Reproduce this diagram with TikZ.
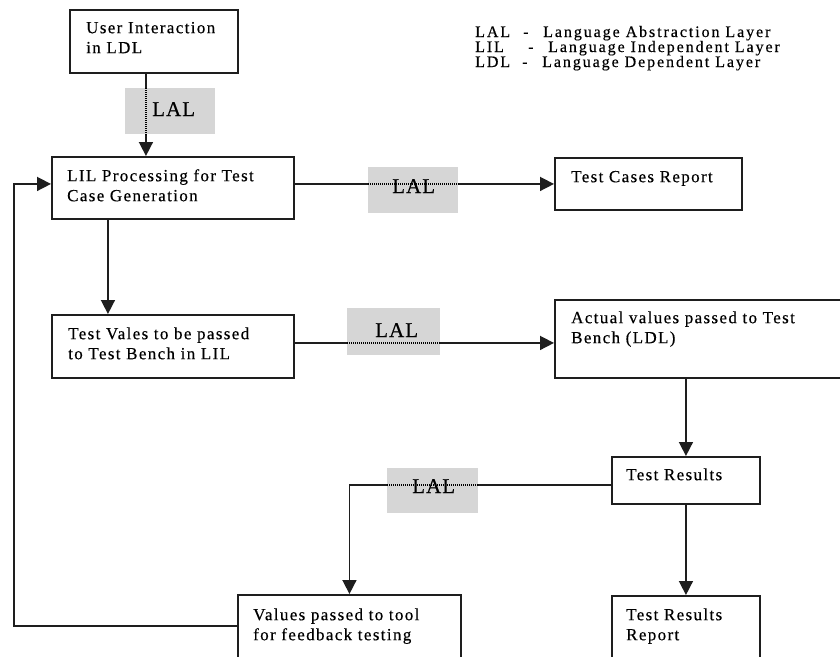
\documentclass[tikz,border=0pt]{standalone}
\usepackage{fontspec}
\setmainfont{Liberation Serif}[LetterSpace=8, FakeBold=0.4]
\usetikzlibrary{arrows.meta,calc}
\definecolor{ink}{HTML}{1E1E1E}
\definecolor{shade}{HTML}{D6D6D6}

\begin{document}
\begin{tikzpicture}[x=1pt,y=-1pt,
  box/.style={draw=ink, line width=1.9pt, fill=white, inner sep=0pt, anchor=north west},
  boxtext/.style={anchor=north west, inner sep=0pt, align=left, text=black,
                  font=\fontsize{17}{20}\selectfont},
  conn/.style={draw=ink, line width=1.6pt, -{Triangle[length=14pt,width=14pt]}},
  lalbox/.style={fill=shade, draw=none, inner sep=0pt, anchor=north west},
  laltext/.style={anchor=base west, inner sep=0pt,
                  font=\fontsize{21}{24}\selectfont\addfontfeature{LetterSpace=5}},
  dotline/.style={draw=black, line width=1.3pt, dash pattern=on 1pt off 1pt},
  legend/.style={anchor=base west, inner sep=0pt,
                 font=\fontsize{16}{18}\selectfont\addfontfeature{LetterSpace=12}}]

\useasboundingbox (0,0) rectangle (840,656);
\clip (0,0) rectangle (840,656);

% process boxes
\node[box, minimum width=168pt, minimum height=63pt] (ui)  at (69,9)   {};
\node[box, minimum width=242pt, minimum height=62pt] (lil) at (51,156) {};
\node[box, minimum width=187pt, minimum height=52pt] (tcr) at (554,157) {};
\node[box, minimum width=242pt, minimum height=63pt] (tv)  at (51,314) {};
\node[box, minimum width=320pt, minimum height=78pt] (av)  at (554,299) {};
\node[box, minimum width=148pt, minimum height=47pt] (tr)  at (611,456) {};
\node[box, minimum width=223pt, minimum height=90pt] (vp)  at (237,594) {};
\node[box, minimum width=148pt, minimum height=90pt] (trr) at (611,595) {};

% box captions
\node[boxtext] (uit)  at ($(ui.north west)+(17,10)$)  {\strut User Interaction\\in LDL};
\node[boxtext] (lilt) at ($(lil.north west)+(16,11)$) {\strut LIL Processing for Test\\Case Generation};
\node[boxtext] (tcrt) at ($(tcr.north west)+(17,11)$) {\strut Test Cases Report};
\node[boxtext] (tvt)  at ($(tv.north west)+(17,11)$)  {\strut Test Vales to be passed\\to Test Bench in LIL};
\node[boxtext] (avt)  at ($(av.north west)+(17,10)$)  {\strut Actual values passed to Test\\Bench (LDL)};
\node[boxtext] (trt)  at ($(tr.north west)+(15,10)$)  {\strut Test Results};
\node[boxtext] (vpt)  at ($(vp.north west)+(16,12)$)  {\strut Values passed to tool\\for feedback testing};
\node[boxtext] (trrt) at ($(trr.north west)+(15,11)$) {\strut Test Results\\Report};

% connector end points
\coordinate (uidown)  at ([xshift=-8pt]ui.south);
\coordinate (lilin)   at ([yshift=4pt]lil.west);
\coordinate (lilout)  at ([yshift=4pt]lil.east);
\coordinate (lildown) at ([xshift=-65pt]lil.south);
\coordinate (tvout)   at ([yshift=3.5pt]tv.east);
\coordinate (trout)   at ([yshift=-4.5pt]tr.west);
\coordinate (vpout)   at ([yshift=-32pt]vp.north west);
\coordinate (fbx)     at (14,0);

% connectors
\draw[conn] (uidown) -- (uidown |- lil.north);
\draw[conn] (lilout) -- (lilout -| tcr.west);
\draw[conn] (lildown) -- (lildown |- tv.north);
\draw[conn] (tvout) -- (tvout -| av.west);
\draw[conn] (tr.north |- av.south) -- (tr.north);
\draw[conn] (tr.south) -- (trr.north);
\draw[conn] (trout) -| (vp.north);
\draw[conn] (vpout) -| (fbx |- lilin) -- (lilin);

% abstraction layer markers
\node[lalbox, minimum width=90pt, minimum height=46pt] (lal1) at (125,88)  {};
\node[lalbox, minimum width=90pt, minimum height=46pt] (lal2) at (368,167) {};
\node[lalbox, minimum width=93pt, minimum height=47pt] (lal3) at (347,308) {};
\node[lalbox, minimum width=91pt, minimum height=45pt] (lal4) at (387,468) {};

\draw[dotline] (lal1.north -| uidown) -- (lal1.south -| uidown);
\draw[dotline] (lal2.west |- lilout) -- (lal2.east |- lilout);
\draw[dotline] (lal3.west |- tvout) -- (lal3.east |- tvout);
\draw[dotline] (lal4.west |- trout) -- (lal4.east |- trout);

\node[laltext] (lalt1) at (152,116) {LAL};
\node[laltext] (lalt2) at (392,193) {LAL};
\node[laltext] (lalt3) at (375,337) {LAL};
\node[laltext] (lalt4) at (412,493) {LAL};

% legend
\node[legend] (leg1) at (475,37) {\makebox[48pt][l]{LAL}\makebox[20pt][l]{-}Language Abstraction Layer};
\node[legend] (leg2) at (475,52) {\makebox[53pt][l]{LIL}\makebox[20pt][l]{-}Language Independent Layer};
\node[legend] (leg3) at (475,67) {\makebox[47pt][l]{LDL}\makebox[20pt][l]{-}Language Dependent Layer};

\end{tikzpicture}
\end{document}
